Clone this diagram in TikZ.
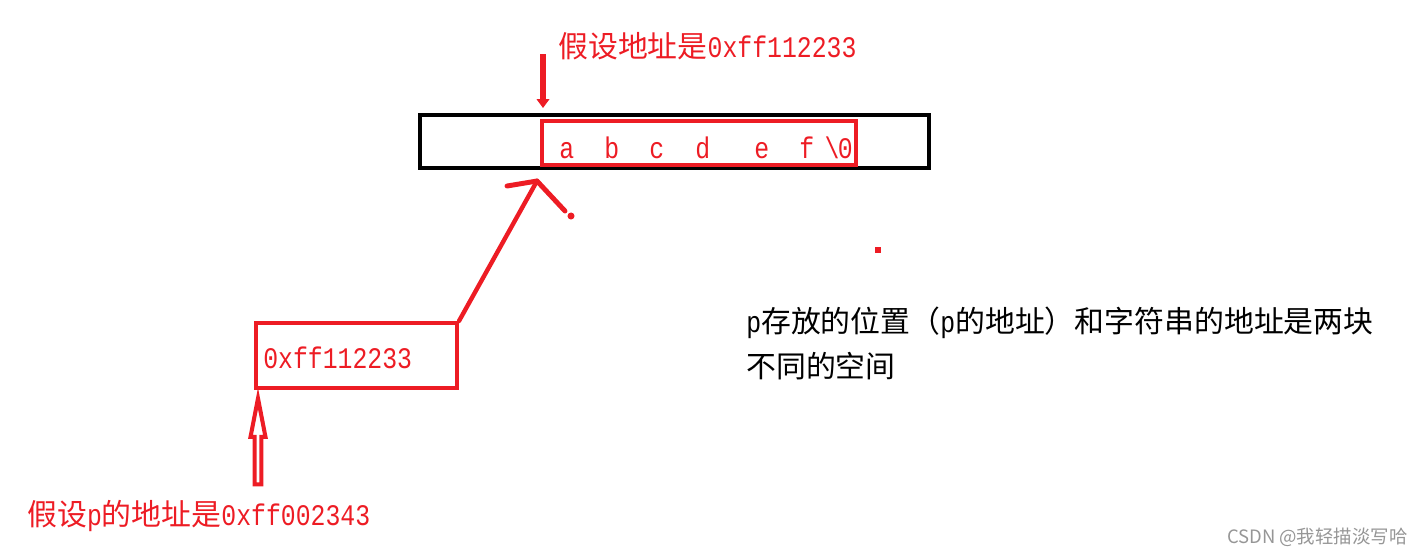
\documentclass[tikz,border=0pt]{standalone}
\usepackage{fontspec}
\usepackage{xcolor}
\usetikzlibrary{positioning,calc,shapes.arrows,arrows.meta}
\newfontfamily\cjk{Noto Sans CJK SC}
\newfontfamily\hexfont[FakeStretch=0.83]{Liberation Mono}
\definecolor{inkred}{RGB}{237,28,36}
\definecolor{markgray}{RGB}{150,150,150}
\newcommand{\hex}[1]{{\hexfont #1}}

\begin{document}
\begin{tikzpicture}[x=0.02cm, y=-0.02cm,
    redtext/.style={text=inkred, font=\fontsize{17}{21}\selectfont\cjk, inner sep=0pt},
    blacktext/.style={text=black, font=\fontsize{17}{21}\selectfont\cjk, inner sep=0pt, align=left},
    cell/.style={draw, line width=2.3pt, inner sep=0pt}]
    \useasboundingbox (0,0) rectangle (1422,556);
    \node[cell, draw=black, minimum width=10.18cm, minimum height=1.06cm] (strbox) at (674.5,141.5) {};
    \node[cell, draw=inkred, minimum width=6.28cm, minimum height=0.88cm] (strchars) at (699,143) {};
    \foreach \px/\ch in {559/a,604/b,649/c,695/d,754/e,799/f}
        \node[redtext, anchor=base west] (ch\px) at (\px,158) {\hex{\ch}};
    \node[redtext, anchor=base east] (chend) at (853,158) {\hex{\textbackslash\kern-1pt0}};
    \node[redtext, anchor=west] (toplabel) at (558,46) {假设地址是\hex{0xff112233}};
    \coordinate (topfrom) at (543,54);
    \coordinate (topto) at (543,108);
    \draw[inkred, line width=3.8pt, -{Triangle[length=5pt,width=7pt]}] (topfrom) -- (topto);

    \node[cell, draw=inkred, minimum width=4.02cm, minimum height=1.3cm] (ptrbox) at (356.5,355.5) {};
    \node[redtext, anchor=west] (ptrval) at (263,358) {\hex{0xff112233}};
    \coordinate (tip) at (537,181);
    \draw[inkred, line width=2.5pt, line cap=round] (ptrbox.north east) -- (tip);
    \draw[inkred, line width=2.8pt, line cap=round] (tip) -- ++(-30,5);
    \draw[inkred, line width=2.8pt, line cap=round] (tip) -- ++(28,30);
    \fill[inkred] (571,216) circle (2pt);
    \fill[inkred] (875,247) rectangle (881,253);

    \node[single arrow, draw=inkred, fill=white, line width=2.3pt, shape border rotate=90,
        minimum height=1.72cm, minimum width=0.3cm, single arrow head extend=0.05cm,
        single arrow tip angle=22, inner sep=0pt] (uparrow) at (258,450) {};
    \node[redtext, anchor=west] (plabel) at (27,516) {假设\hex{p}的地址是\hex{0xff002343}};

    \node[blacktext, anchor=west] (note) at (746,343.5)
        {\hex{p}存放的位置（\hex{p}的地址）和字符串的地址是两块\\[5pt]不同的空间};
    \node[anchor=east, inner sep=0pt, text=markgray, font=\fontsize{10.5}{12}\selectfont\cjk] (mark) at (1408,537) {CSDN @我轻描淡写哈};
\end{tikzpicture}
\end{document}
